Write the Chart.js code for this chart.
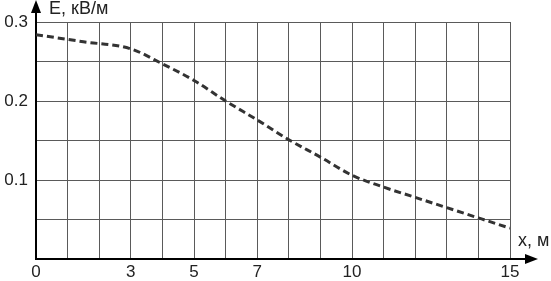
<!DOCTYPE html>
<html>
<head>
<meta charset="utf-8">
<script src="https://cdn.jsdelivr.net/npm/chart.js@4/dist/chart.umd.min.js"></script>
<style>
  html, body { margin: 0; padding: 0; background: #fff; }
  #wrap { width: 551px; height: 281px; }
</style>
</head>
<body>
<div id="wrap"><canvas id="grafico" width="551" height="281"></canvas></div>
<script>
// distance, m
var distX = [0, 1.5, 3, 4, 5, 6, 7, 8, 9, 10, 11, 12, 13, 14, 15];
// field strength, kV/m
var fieldE = [0.284, 0.275, 0.266, 0.247, 0.226, 0.200, 0.176, 0.151, 0.129, 0.106, 0.091, 0.078, 0.065, 0.052, 0.039];
// labelled ticks
var xTickLabels = [0, 3, 5, 7, 10, 15];
var yTickLabels = [0.1, 0.2, 0.3];

var puntos = [];
for (var i = 0; i < distX.length; i++) {
    puntos.push({ x: distX[i], y: fieldE[i] });
}

const FONT = 'Liberation Sans, Arial, sans-serif';

// arrows and axis names
const ejes = {
    id: 'ejes',
    afterDraw: function (chart) {
        const c = chart.ctx;
        const a = chart.chartArea;
        c.save();
        c.fillStyle = '#000';
        // y arrow
        c.fillRect(a.left - 1, 8, 2, a.top - 8);
        c.beginPath();
        c.moveTo(a.left, 0);
        c.lineTo(a.left - 5, 13);
        c.lineTo(a.left + 5, 13);
        c.closePath();
        c.fill();
        // x arrow
        c.fillRect(a.right, a.bottom - 1, 530 - a.right, 2);
        c.beginPath();
        c.moveTo(538, a.bottom);
        c.lineTo(525, a.bottom - 5);
        c.lineTo(525, a.bottom + 5);
        c.closePath();
        c.fill();

        c.font = '18px ' + FONT;
        c.fillStyle = '#222';
        c.textBaseline = 'middle';
        c.textAlign = 'left';
        c.fillText('E, кВ/м', 49, 9);
        c.fillText('x, м', 518, 241);
        c.restore();
    }
};

const ctx = document.getElementById('grafico').getContext('2d');
const grafico = new Chart(ctx, {
    type: 'line',
    data: {
        datasets: [{
            label: 'E',
            data: puntos,
            borderColor: '#333',
            borderWidth: 3,
            borderDash: [7, 4],
            pointRadius: 0,
            fill: false,
            cubicInterpolationMode: 'monotone'
        }]
    },
    options: {
        responsive: false,
        animation: false,
        layout: { padding: { top: 22, right: 41, left: 0, bottom: 0 } },
        plugins: {
            legend: { display: false },
            tooltip: { enabled: false }
        },
        scales: {
            x: {
                type: 'linear',
                min: 0,
                max: 15,
                afterFit: function (s) { s.height = 22; },
                ticks: {
                    stepSize: 1,
                    autoSkip: false,
                    maxRotation: 0,
                    padding: 3,
                    color: '#222',
                    font: { family: FONT, size: 17 },
                    callback: function (v) {
                        return xTickLabels.indexOf(v) >= 0 ? String(v) : '';
                    }
                },
                grid: { color: '#5a5a5a', lineWidth: 1, drawTicks: false },
                border: { color: '#000', width: 2 }
            },
            y: {
                min: 0,
                max: 0.3,
                afterFit: function (s) { s.width = 36; },
                ticks: {
                    stepSize: 0.05,
                    autoSkip: false,
                    padding: 8,
                    color: '#222',
                    font: { family: FONT, size: 17 },
                    callback: function (v) {
                        for (var k = 0; k < yTickLabels.length; k++) {
                            if (Math.abs(v - yTickLabels[k]) < 1e-6) return yTickLabels[k].toFixed(1);
                        }
                        return '';
                    }
                },
                grid: { color: '#5a5a5a', lineWidth: 1, drawTicks: false },
                border: { color: '#000', width: 2 }
            }
        }
    },
    plugins: [ejes]
});
</script>
</body>
</html>
